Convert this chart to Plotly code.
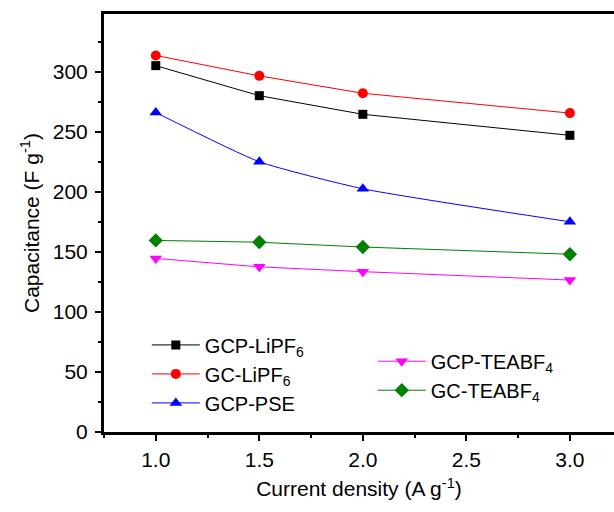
import plotly.graph_objects as go

current_density = [1.0, 1.5, 2.0, 3.0]
gcp_lipf6 = [305, 280, 264.5, 247]
gc_lipf6 = [313.5, 296.5, 282, 265.5]
gcp_pse = [266, 225, 202.5, 175]
gcp_teabf4 = [144.5, 137.5, 133.5, 126.5]
gc_teabf4 = [159.5, 158, 154, 148]

x_tickvals = [1.0, 1.5, 2.0, 2.5, 3.0]

series = [
    ("GCP-LiPF<sub>6</sub>", gcp_lipf6, "#000000", "square", 9, "legend", "linear"),
    ("GC-LiPF<sub>6</sub>", gc_lipf6, "#FF0000", "circle", 10, "legend", "linear"),
    ("GCP-PSE", gcp_pse, "#0000FF", "triangle-up", 11, "legend", "spline"),
    ("GCP-TEABF<sub>4</sub>", gcp_teabf4, "#FF00FF", "triangle-down", 11, "legend2", "linear"),
    ("GC-TEABF<sub>4</sub>", gc_teabf4, "#008000", "diamond", 11, "legend2", "linear"),
]

fig = go.Figure()
for name, ys, color, sym, size, leg, shape in series:
    fig.add_trace(go.Scatter(
        x=current_density, y=ys, name=name, mode="lines+markers",
        line=dict(color=color, width=1, shape=shape, smoothing=0.5),
        marker=dict(symbol=sym, size=size, color=color),
        legend=leg,
    ))

font = "Arial, Liberation Sans, sans-serif"
fs = 21
lfs = 20
fig.update_layout(
    width=614, height=512,
    margin=dict(l=104, r=0, t=14, b=80),
    paper_bgcolor="white", plot_bgcolor="white",
    font=dict(family=font, size=fs, color="#000000"),
    legend=dict(x=0.084, y=0.255, xanchor="left", yanchor="top",
                bgcolor="rgba(0,0,0,0)", font=dict(size=lfs),
                itemwidth=48, tracegroupgap=0),
    legend2=dict(x=0.527, y=0.216, xanchor="left", yanchor="top",
                 bgcolor="rgba(0,0,0,0)", font=dict(size=lfs),
                 itemwidth=48, tracegroupgap=0),
    xaxis=dict(
        range=[0.75, 3.213], tickvals=x_tickvals, tickformat=".1f",
        showline=True, linewidth=3, linecolor="black", mirror=True,
        ticks="outside", ticklen=6, tickwidth=2, tickcolor="black",
        ticklabelstandoff=1,
        minor=dict(ticks="outside", ticklen=3, tickwidth=2, dtick=0.25, tick0=0.75, tickcolor="black"),
        showgrid=False, zeroline=False,
        title=dict(text="Current density (A g<sup>-1</sup>)", font=dict(size=fs), standoff=12),
    ),
    yaxis=dict(
        range=[0, 348], tick0=0, dtick=50,
        showline=True, linewidth=3, linecolor="black", mirror=False,
        ticks="outside", ticklen=6, tickwidth=2, tickcolor="black",
        ticklabelstandoff=3,
        minor=dict(ticks="outside", ticklen=3, tickwidth=2, dtick=25, tickcolor="black"),
        showgrid=False, zeroline=False,
        title=dict(text="Capacitance (F g<sup>-1</sup>)", font=dict(size=fs), standoff=8),
    ),
)
fig.write_html("out.html")
